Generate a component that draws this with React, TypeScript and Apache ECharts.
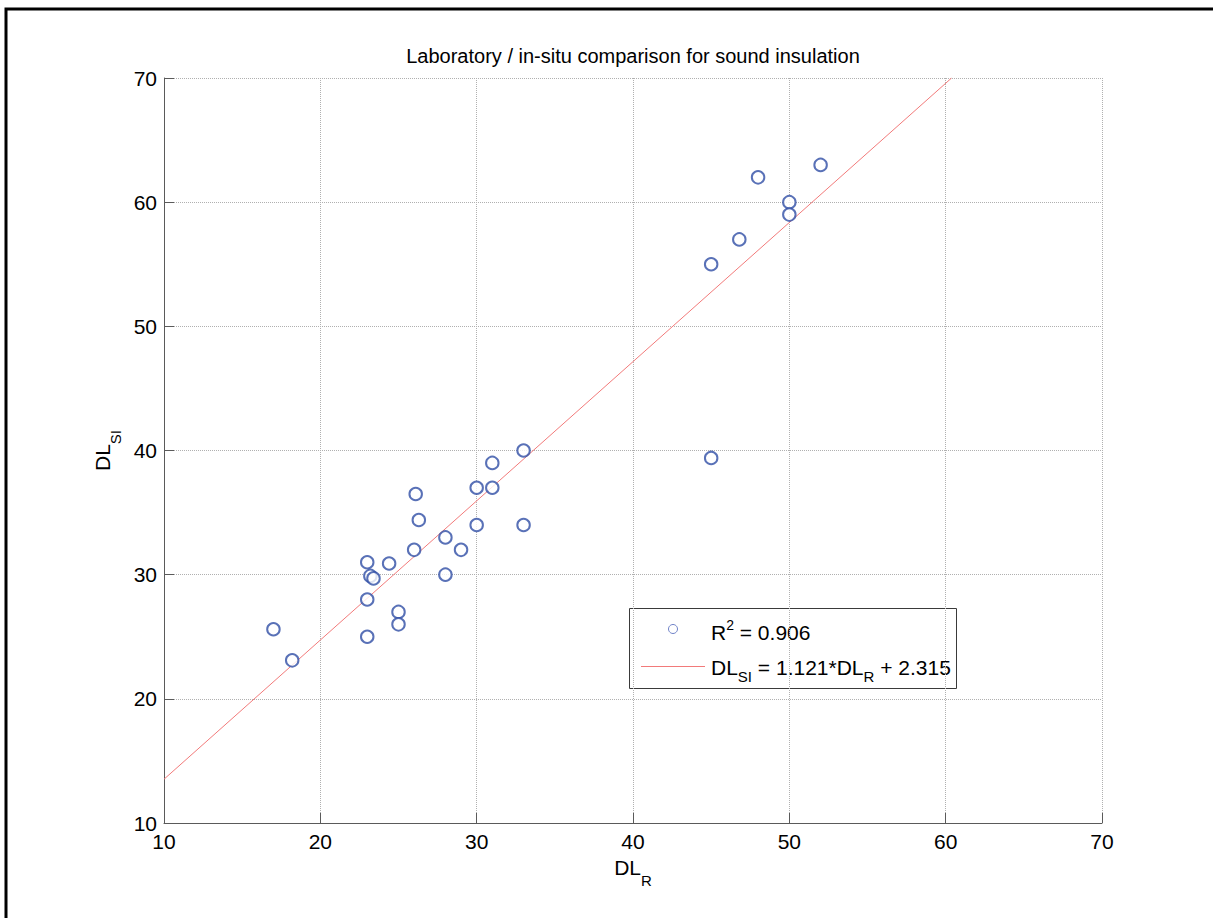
import { useEffect, useRef } from "react";
import * as echarts from "echarts";

// Measured pairs: laboratory (DL_R) vs in-situ (DL_SI) sound insulation
const dlR = [17, 18.2, 23, 23, 23, 23.2, 23.4, 24.4, 25, 25, 26, 26.1, 26.3, 28, 28, 29, 30, 30, 31, 31, 33, 33, 45, 45, 46.8, 48, 50, 50, 52];
const dlSI = [25.6, 23.1, 31, 28, 25, 29.9, 29.7, 30.9, 27, 26, 32, 36.5, 34.4, 33, 30, 32, 37, 34, 39, 37, 40, 34, 39.4, 55, 57, 62, 60, 59, 63];

// Linear regression reported in the legend
const fitSlope = 1.121;
const fitIntercept = 2.315;
const rSquared = 0.906;

// Axis range shared by both axes
const axisMin = 10;
const axisMax = 70;
const axisStep = 10;

const titleText = "Laboratory / in-situ comparison for sound insulation";
const xName = "{m|DL}{s|R}";
const yName = "{m|DL}{s|SI}";

const FONT = "'Liberation Sans', Arial, Helvetica, sans-serif";
const AXIS_COLOR = "#5a5a5a";
const GRID_COLOR = "#b0b0b0";
const POINT_COLOR = "#2f4ea5";
const FIT_COLOR = "#f27a7a";

export default function App() {
  const ref = useRef<HTMLDivElement>(null);

  useEffect(() => {
    const chart = echarts.init(ref.current!, null, { renderer: "svg" });

    const points = dlR.map((x, i) => [x, dlSI[i]]);
    const fitEnd = Math.min(axisMax, (axisMax - fitIntercept) / fitSlope);
    const fitLine = [axisMin, fitEnd].map((x) => [x, fitSlope * x + fitIntercept]);

    const nameRich = {
      m: { fontSize: 21, fontFamily: FONT, color: "#000" },
      s: { fontSize: 15, fontFamily: FONT, color: "#000", padding: [26, 0, 0, 0] },
    };

    const axisCommon = {
      type: "value" as const,
      min: axisMin,
      max: axisMax,
      interval: axisStep,
      axisLine: { show: true, lineStyle: { color: AXIS_COLOR, width: 1 } },
      axisTick: { show: true, inside: true, length: 10, lineStyle: { color: AXIS_COLOR, width: 1 } },
      splitLine: { show: true, lineStyle: { type: "dotted" as const, color: GRID_COLOR, width: 1 } },
      nameLocation: "middle" as const,
    };

    const legendRich = {
      b: { fontSize: 21, fontFamily: FONT, color: "#000" },
      sup: { fontSize: 14, fontFamily: FONT, color: "#000", padding: [0, 0, 14, 0] },
      sub: { fontSize: 15, fontFamily: FONT, color: "#000", padding: [18, 0, 0, 0] },
    };

    chart.setOption({
      animation: false,
      backgroundColor: "#fff",
      title: {
        text: titleText,
        left: 628,
        top: 41,
        textAlign: "center",
        textStyle: { fontSize: 20, fontWeight: "normal", color: "#000", fontFamily: FONT },
      },
      grid: { left: 164, top: 78, right: 111, bottom: 95, containLabel: false },
      xAxis: {
        ...axisCommon,
        name: xName,
        nameGap: 22,
        nameTextStyle: { rich: nameRich },
        axisLabel: { fontSize: 21, color: "#000", fontFamily: FONT, margin: 8 },
      },
      yAxis: {
        ...axisCommon,
        name: yName,
        nameGap: 36,
        nameTextStyle: { rich: nameRich },
        axisLabel: { fontSize: 21, color: "#000", fontFamily: FONT, margin: 7 },
      },
      series: [
        {
          type: "scatter",
          name: "points",
          data: points,
          symbol: "emptyCircle",
          symbolSize: 12.5,
          itemStyle: { color: POINT_COLOR, borderColor: POINT_COLOR, borderWidth: 1.8 },
          z: 3,
        },
        {
          type: "line",
          name: "fit",
          data: fitLine,
          showSymbol: false,
          symbol: "none",
          lineStyle: { color: FIT_COLOR, width: 1 },
          z: 2,
        },
      ],
      graphic: [
        {
          type: "rect",
          silent: true,
          shape: { x: 6, y: 9, width: 1400, height: 1200 },
          style: { fill: "none", stroke: "#000", lineWidth: 3 },
          z: 100,
        },
        {
          type: "group",
          z: 100,
          children: [
            {
              type: "rect",
              shape: { x: 629.5, y: 608.5, width: 327, height: 80 },
              style: { fill: "#fff", stroke: "#3a3a3a", lineWidth: 1 },
            },
            {
              type: "circle",
              shape: { cx: 673, cy: 629, r: 4.5 },
              style: { fill: "none", stroke: "#6f82c8", lineWidth: 1 },
            },
            {
              type: "line",
              shape: { x1: 641, y1: 666.5, x2: 705, y2: 666.5 },
              style: { stroke: FIT_COLOR, lineWidth: 1 },
            },
            {
              type: "text",
              style: {
                x: 711,
                y: 632,
                text: `{b|R}{sup|2}{b| = ${rSquared.toFixed(3)}}`,
                rich: legendRich,
                verticalAlign: "middle",
                align: "left",
              },
            },
            {
              type: "text",
              style: {
                x: 711,
                y: 667,
                text: `{b|DL}{sub|SI}{b| = ${fitSlope.toFixed(3)}*DL}{sub|R}{b| + ${fitIntercept.toFixed(3)}}`,
                rich: legendRich,
                verticalAlign: "middle",
                align: "left",
              },
            },
          ],
        },
      ],
    });

    return () => chart.dispose();
  }, []);

  return (
    <div
      ref={ref}
      style={{ position: "absolute", left: 0, top: 0, width: 1213, height: 918, overflow: "hidden", background: "#fff" }}
    />
  );
}
